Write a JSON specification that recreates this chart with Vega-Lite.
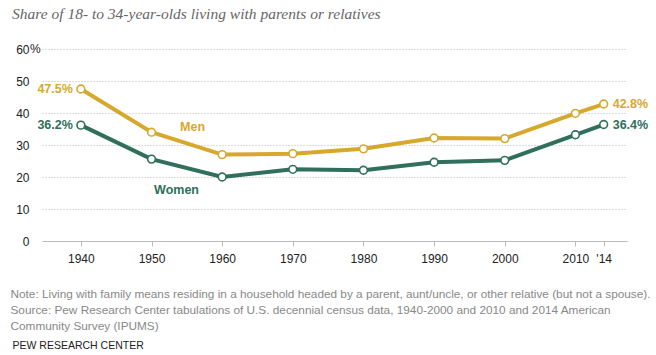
{
  "$schema": "https://vega.github.io/schema/vega-lite/v6.json",
  "width": 585,
  "height": 192,
  "autosize": {"type": "none"},
  "padding": {"left": 42, "top": 49, "right": 29, "bottom": 114},
  "background": "white",
  "config": {"view": {"stroke": null}, "font": "Liberation Sans"},
  "title": {
    "text": "Share of 18- to 34-year-olds living with parents or relatives",
    "anchor": "start",
    "frame": "group",
    "orient": "top",
    "font": "Liberation Serif",
    "fontStyle": "italic",
    "fontWeight": "normal",
    "fontSize": 15.5,
    "color": "#666666",
    "baseline": "alphabetic",
    "dx": -30,
    "offset": 9
  },
  "data": {
    "values": [
      {"series": "Men", "year": 1940, "value": 47.5, "label": "47.5%"},
      {"series": "Men", "year": 1950, "value": 34.0},
      {"series": "Men", "year": 1960, "value": 27.0},
      {"series": "Men", "year": 1970, "value": 27.3},
      {"series": "Men", "year": 1980, "value": 28.8},
      {"series": "Men", "year": 1990, "value": 32.2},
      {"series": "Men", "year": 2000, "value": 32.0},
      {"series": "Men", "year": 2010, "value": 39.9},
      {"series": "Men", "year": 2014, "value": 42.8, "label": "42.8%"},
      {"series": "Women", "year": 1940, "value": 36.2, "label": "36.2%"},
      {"series": "Women", "year": 1950, "value": 25.6},
      {"series": "Women", "year": 1960, "value": 20.0},
      {"series": "Women", "year": 1970, "value": 22.4},
      {"series": "Women", "year": 1980, "value": 22.1},
      {"series": "Women", "year": 1990, "value": 24.6},
      {"series": "Women", "year": 2000, "value": 25.2},
      {"series": "Women", "year": 2010, "value": 33.2},
      {"series": "Women", "year": 2014, "value": 36.4, "label": "36.4%"}
    ]
  },
  "encoding": {
    "x": {
      "field": "year",
      "type": "quantitative",
      "scale": {"domain": [1934.5, 2017.3], "nice": false, "zero": false},
      "axis": {
        "values": [1940, 1950, 1960, 1970, 1980, 1990, 2000, 2010, 2014],
        "format": "d",
        "labelExpr": "datum.value == 2014 ? \"'14\" : datum.label",
        "labelOverlap": false,
        "labelFontSize": 12,
        "labelColor": "#222222",
        "labelPadding": 7,
        "grid": false,
        "domainColor": "#bbbbbb",
        "tickColor": "#bbbbbb",
        "tickSize": 5,
        "title": [
          "Note: Living with family means residing in a household headed by a parent, aunt/uncle, or other relative (but not a spouse).",
          "Source: Pew Research Center tabulations of U.S. decennial census data, 1940-2000 and 2010 and 2014 American",
          "Community Survey (IPUMS)"
        ],
        "titleAnchor": "start",
        "titleAlign": "left",
        "titleBaseline": "alphabetic",
        "titleX": -32,
        "titleY": 56,
        "titleLineHeight": 16,
        "titleFontSize": 11.8,
        "titleFontWeight": "normal",
        "titleColor": "#888888"
      }
    },
    "y": {
      "field": "value",
      "type": "quantitative",
      "scale": {"domain": [0, 60], "nice": false},
      "axis": {
        "values": [0, 10, 20, 30, 40, 50, 60],
        "labelFontSize": 12,
        "labelColor": "#222222",
        "labelPadding": 13,
        "domain": false,
        "ticks": false,
        "grid": true,
        "gridColor": {"condition": {"test": "datum.value === 0", "value": "transparent"}, "value": "#bbbbbb"},
        "gridDash": [1, 2],
        "gridWidth": 1,
        "title": "PEW RESEARCH CENTER",
        "titleAngle": 0,
        "titleX": -30,
        "titleY": 299,
        "titleAlign": "left",
        "titleBaseline": "alphabetic",
        "titleFontSize": 10.5,
        "titleFontWeight": "normal",
        "titleColor": "#222222"
      }
    }
  },
  "layer": [
    {
      "mark": {"type": "line", "strokeWidth": 4},
      "encoding": {
        "color": {"field": "series", "type": "nominal", "scale": {"domain": ["Men", "Women"], "range": ["#D6A92E", "#2F6F5B"]}, "legend": null}
      }
    },
    {
      "mark": {"type": "point", "size": 60, "strokeWidth": 1.6, "opacity": 1, "filled": false},
      "encoding": {
        "stroke": {"field": "series", "type": "nominal", "scale": {"domain": ["Men", "Women"], "range": ["#D6A92E", "#2F6F5B"]}, "legend": null},
        "fill": {"value": "white"}
      }
    },
    {
      "transform": [{"filter": "datum.year == 1940 && datum.series == 'Men'"}],
      "mark": {"type": "text", "text": "%", "align": "left", "baseline": "middle", "dx": -12, "fontSize": 12, "color": "#222222"},
      "encoding": {
        "x": {"datum": 1934.5},
        "y": {"datum": 60}
      }
    },
    {
      "transform": [{"filter": "datum.year == 1940"}],
      "mark": {"type": "text", "align": "right", "baseline": "middle", "dx": -8, "fontWeight": "bold", "fontSize": 12.5},
      "encoding": {
        "text": {"field": "label"},
        "color": {"field": "series", "type": "nominal", "scale": {"domain": ["Men", "Women"], "range": ["#D6A92E", "#2F6F5B"]}, "legend": null}
      }
    },
    {
      "transform": [{"filter": "datum.year == 2014"}],
      "mark": {"type": "text", "align": "left", "baseline": "middle", "dx": 9, "fontWeight": "bold", "fontSize": 12.5},
      "encoding": {
        "text": {"field": "label"},
        "color": {"field": "series", "type": "nominal", "scale": {"domain": ["Men", "Women"], "range": ["#D6A92E", "#2F6F5B"]}, "legend": null}
      }
    },
    {
      "transform": [{"filter": "datum.year == 1950 && datum.series == 'Men'"}],
      "mark": {"type": "text", "align": "center", "baseline": "middle", "dx": 41, "dy": -5, "fontWeight": "bold", "fontSize": 12.5},
      "encoding": {
        "text": {"field": "series"},
        "color": {"field": "series", "type": "nominal", "scale": {"domain": ["Men", "Women"], "range": ["#D6A92E", "#2F6F5B"]}, "legend": null}
      }
    },
    {
      "transform": [{"filter": "datum.year == 1950 && datum.series == 'Women'"}],
      "mark": {"type": "text", "align": "center", "baseline": "middle", "dx": 25, "dy": 31, "fontWeight": "bold", "fontSize": 12.5},
      "encoding": {
        "text": {"field": "series"},
        "color": {"field": "series", "type": "nominal", "scale": {"domain": ["Men", "Women"], "range": ["#D6A92E", "#2F6F5B"]}, "legend": null}
      }
    }
  ]
}
